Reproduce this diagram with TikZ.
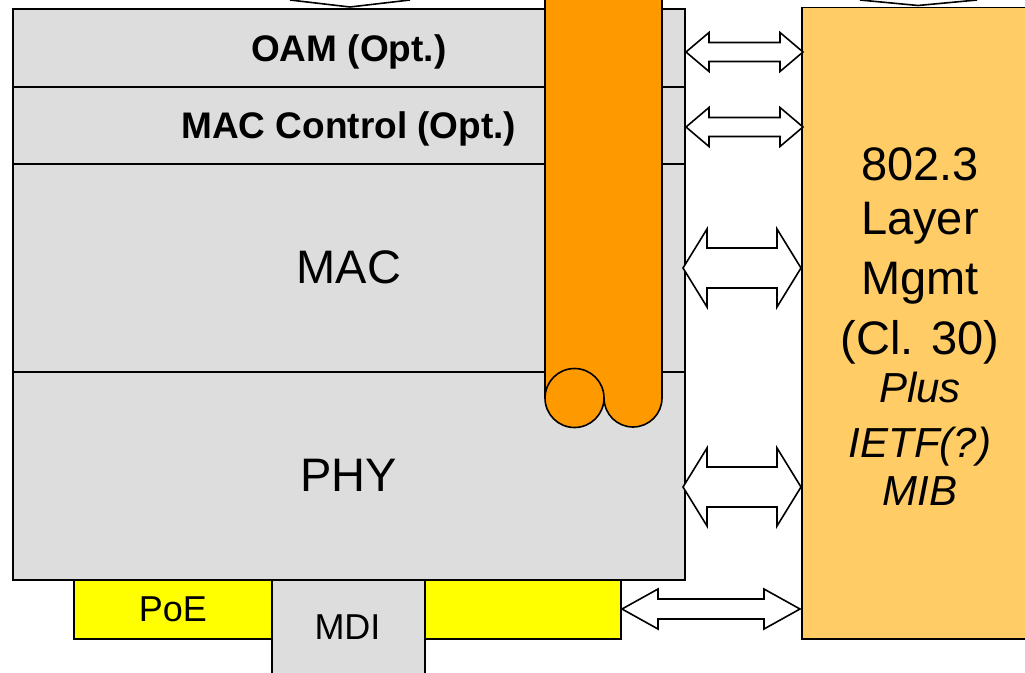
\documentclass[tikz,border=0pt]{standalone}
\usepackage{fontspec}
\setmainfont{Liberation Sans}
\definecolor{boxgray}{HTML}{DDDDDD}
\definecolor{tubeorange}{HTML}{FF9900}
\definecolor{mgmtorange}{HTML}{FFCC66}
\definecolor{poeyellow}{HTML}{FFFF00}
\newcommand\blockarr[6]{%
  \draw[barrow] (#1,#3) -- ({#1+#4},{#3-#5}) -- ({#1+#4},{#3-#6}) -- ({#2-#4},{#3-#6})
    -- ({#2-#4},{#3-#5}) -- (#2,#3) -- ({#2-#4},{#3+#5}) -- ({#2-#4},{#3+#6})
    -- ({#1+#4},{#3+#6}) -- ({#1+#4},{#3+#5}) -- cycle;}
\begin{document}
\begin{tikzpicture}[x=1pt,y=1pt,yscale=-1,line width=1.6pt,
  layer/.style={draw=black,fill=boxgray,anchor=north west,inner sep=0pt,minimum width=672pt},
  boldlabel/.style={font=\fontsize{37}{44}\selectfont\bfseries,text depth=0pt},
  biglabel/.style={font=\fontsize{47}{56}\selectfont},
  ybox/.style={draw=black,fill=poeyellow,anchor=north west,inner sep=0pt,minimum height=59pt},
  mdibox/.style={draw=black,fill=boxgray,anchor=north west,inner sep=0pt},
  smalllabel/.style={font=\fontsize{36}{43}\selectfont},
  mgmtline/.style={anchor=base,inner sep=0pt,font=\fontsize{47}{56}\selectfont},
  mgmtital/.style={anchor=base,inner sep=0pt,font=\fontsize{42}{50}\selectfont\itshape},
  tube/.style={draw=black,fill=tubeorange},
  barrow/.style={draw=black,fill=white,line join=miter},
  tipline/.style={draw=black}]
\clip (0,0) rectangle (1025,672);
\fill[white] (0,0) rectangle (1025,672);
% protocol layers
\node[layer,minimum height=78pt,boldlabel] (oam) at (12,8) {OAM (Opt.)};
\node[layer,minimum height=77pt,boldlabel] (macc) at (12,86) {MAC Control (Opt.)};
\node[layer,minimum height=208pt,biglabel] (mac) at (12,163) {MAC};
\node[layer,minimum height=208pt,biglabel] (phy) at (12,371) {PHY};
% PoE / MDI
\node[ybox,minimum width=198pt,smalllabel] (poe) at (73,579) {PoE};
\node[ybox,minimum width=197pt] (poer) at (423,579) {};
\node[mdibox,minimum width=153pt,minimum height=120pt] (mdi) at (271,579) {};
\node[smalllabel,inner sep=0pt] (mditext) at (347.5,627) {MDI};
% orange tube
\draw[tube] (545,-5) -- (545,398) -- (604,398) arc[start angle=180,end angle=0,radius=29] -- (662,-5) -- cycle;
\draw[tube] (574.5,398) circle[radius=29.5];
% management box
\node[draw=black,fill=mgmtorange,anchor=north west,inner sep=0pt,minimum width=300pt,minimum height=631.5pt] (mgmt) at (801,6.5) {};
\node[mgmtline] (m1) at (920,180) {802.3};
\node[mgmtline] (m2) at (920,234) {Layer};
\node[mgmtline] (m3) at (920,294) {Mgmt};
\node[mgmtline] (m4) at (920,354) {(Cl. 30)};
\node[mgmtital] (m5) at (920,402) {Plus};
\node[mgmtital] (m6) at (920,457) {IETF(?)};
\node[mgmtital] (m7) at (920,505) {MIB};
% block arrows
\blockarr{686}{803}{52}{23}{19.5}{9.5}
\blockarr{686}{803}{127}{23}{19.5}{9.5}
\blockarr{683}{801}{268}{24}{39}{20}
\blockarr{683}{801}{487}{24}{39}{20}
\blockarr{622}{800}{609}{36}{20}{10}
% cut-off arrow tips at the top
\coordinate (ta1) at (290,0);
\coordinate (tb1) at (350,7);
\coordinate (tc1) at (410,0);
\coordinate (ta2) at (860,0);
\coordinate (tb2) at (918,5.5);
\coordinate (tc2) at (977,0);
\draw[tipline] (ta1) -- (tb1) -- (tc1);
\draw[tipline] (ta2) -- (tb2) -- (tc2);
\end{tikzpicture}
\end{document}
